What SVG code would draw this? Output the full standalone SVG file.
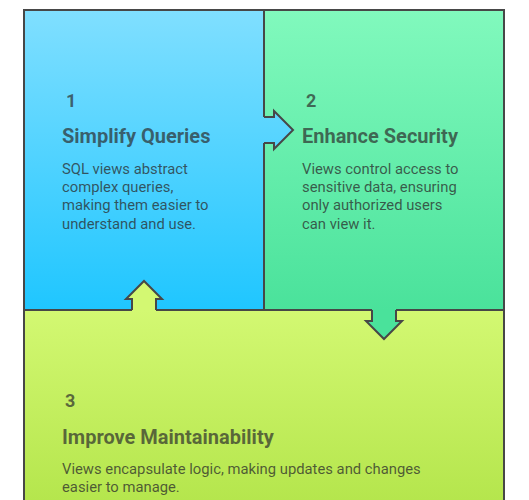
<svg xmlns="http://www.w3.org/2000/svg" width="529" height="500" viewBox="0 0 529 500">
<defs>
<linearGradient id="gBlue" gradientUnits="userSpaceOnUse" x1="0" y1="10" x2="0" y2="310">
<stop offset="0" stop-color="#80dfff"/><stop offset="1" stop-color="#1fc6ff"/>
</linearGradient>
<linearGradient id="gGreen" gradientUnits="userSpaceOnUse" x1="0" y1="10" x2="0" y2="310">
<stop offset="0" stop-color="#81f9bd"/><stop offset="1" stop-color="#4ae29b"/>
</linearGradient>
<linearGradient id="gLime" gradientUnits="userSpaceOnUse" x1="0" y1="310" x2="0" y2="500">
<stop offset="0" stop-color="#d3f872"/><stop offset="1" stop-color="#b5e64d"/>
</linearGradient>
<style>
.panel{stroke:#474747;stroke-width:2}
.edge{fill:none;stroke:#474747;stroke-width:2;stroke-linejoin:miter}
.num{font-family:Roboto,"Liberation Sans",sans-serif;font-weight:bold;font-size:18px;fill:#2b2b2b;fill-opacity:0.7}
.title{font-family:Roboto,"Liberation Sans",sans-serif;font-weight:bold;font-size:20px;fill:#2b2b2b;fill-opacity:0.7}
.body{font-family:Roboto,"Liberation Sans",sans-serif;font-size:14.8px;fill:#2b2b2b;fill-opacity:0.75}
</style>
</defs>
<g id="node-simplify">
<rect class="panel" x="24" y="10" width="240" height="300" fill="url(#gBlue)"/>
<text class="num" x="66" y="107">1</text>
<text class="title" x="62" y="143">Simplify Queries</text>
<text class="body" x="62" y="174">SQL views abstract</text>
<text class="body" x="62" y="192">complex queries,</text>
<text class="body" x="62" y="210">making them easier to</text>
<text class="body" x="62" y="229">understand and use.</text>
</g>
<g id="node-security">
<rect class="panel" x="264" y="10" width="240" height="300" fill="url(#gGreen)"/>
<text class="num" x="306" y="107">2</text>
<text class="title" x="302" y="143">Enhance Security</text>
<text class="body" x="302" y="174">Views control access to</text>
<text class="body" x="302" y="192">sensitive data, ensuring</text>
<text class="body" x="302" y="210">only authorized users</text>
<text class="body" x="302" y="229">can view it.</text>
</g>
<g id="node-maintain">
<rect class="panel" x="24" y="310" width="480" height="196" fill="url(#gLime)"/>
<text class="num" x="65" y="407">3</text>
<text class="title" x="62" y="444">Improve Maintainability</text>
<text class="body" x="62" y="474">Views encapsulate logic, making updates and changes</text>
<text class="body" x="62" y="492">easier to manage.</text>
</g>
<g id="connectors">
<polygon points="262,117 274,117 274,111 293,130 274,149 274,143 262,143" fill="url(#gBlue)"/>
<polyline class="edge" points="264,117 274,117 274,111 293,130 274,149 274,143 264,143"/>
<polygon points="372,308 396,308 396,321 402,321 384,339 366,321 372,321" fill="url(#gGreen)"/>
<polyline class="edge" points="372,310 372,321 366,321 384,339 402,321 396,321 396,310"/>
<polygon points="132,312 132,299 126,299 144,281 162,299 156,299 156,312" fill="url(#gLime)"/>
<polyline class="edge" points="132,310 132,299 126,299 144,281 162,299 156,299 156,310"/>
</g>
</svg>
